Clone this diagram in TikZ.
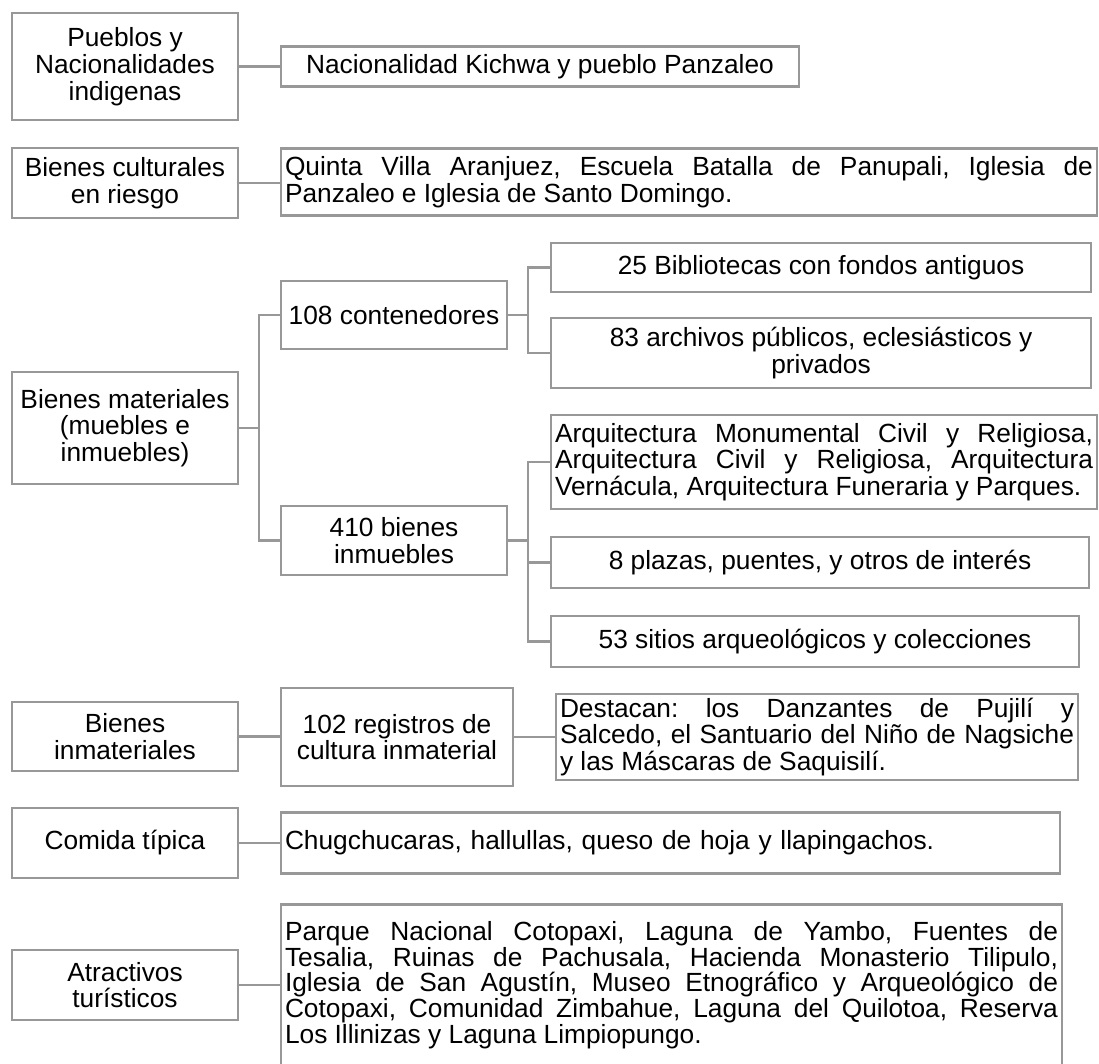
\documentclass[tikz,border=0pt]{standalone}
\usepackage{fontspec}
\setmainfont{Liberation Sans}
\frenchspacing
\definecolor{gris}{RGB}{152,152,152}
\newcommand{\fuente}{\fontsize{26.3}{26.8}\selectfont}
\newcommand{\just}[2]{\makebox[#1][s]{\spaceskip=.278em plus 1fil\relax #2}}

\begin{document}
\begin{tikzpicture}[x=1pt,y=-1pt,
  caja/.style={draw=gris,line width=2.8pt,inner sep=0pt,align=center,font=\fuente},
  texto/.style={caja,align=left,inner xsep=4pt},
  enlace/.style={draw=gris,line width=2.4pt}]
  \useasboundingbox (0,0) rectangle (1099,1063);
  \clip (0,0) rectangle (1099,1063);
  % columna izquierda
  \node[caja,minimum width=226pt,minimum height=107pt] (pueblos) at (125,66.5) {Pueblos y\\Nacionalidades\\indigenas};
  \node[caja,minimum width=226pt,minimum height=70pt] (culturales) at (125,183) {Bienes culturales\\en riesgo};
  \node[caja,minimum width=226pt,minimum height=112pt] (materiales) at (125,428) {Bienes materiales\\(muebles e\\inmuebles)};
  \node[caja,minimum width=226pt,minimum height=69pt] (inmateriales) at (125,736.5) {Bienes\\inmateriales};
  \node[caja,minimum width=226pt,minimum height=70pt] (comida) at (125,843) {Comida típica};
  \node[caja,minimum width=226pt,minimum height=70pt] (atractivos) at (125,985) {Atractivos\\turísticos};
  % segunda columna
  \node[caja,minimum width=518pt,minimum height=40pt] (kichwa) at (540,66.5) {Nacionalidad Kichwa y pueblo Panzaleo};
  \node[texto,minimum width=816pt,minimum height=67pt] (quinta) at (689,182)
    {\just{808pt}{Quinta Villa Aranjuez, Escuela Batalla de Panupali, Iglesia de}\\Panzaleo e Iglesia de Santo Domingo.};
  \node[caja,minimum width=226pt,minimum height=68pt] (contenedores) at (394,315) {108 contenedores};
  \node[caja,minimum width=226pt,minimum height=69pt] (inmuebles) at (394,540.5) {410 bienes\\inmuebles};
  \node[caja,minimum width=232pt,minimum height=98pt] (registros) at (397,737) {102 registros de\\cultura inmaterial};
  \node[texto,text width=771pt,minimum width=779pt,minimum height=61pt] (chugchucaras) at (670.5,843)
    {Chugchucaras, hallullas, queso de hoja y llapingachos.};
  \node[texto,minimum width=781pt,minimum height=161pt,font=\fontsize{26.3}{23.7}\selectfont] (parque) at (671.5,985)
    {\just{773pt}{Parque Nacional Cotopaxi, Laguna de Yambo, Fuentes de}\\
     \just{773pt}{Tesalia, Ruinas de Pachusala, Hacienda Monasterio Tilipulo,}\\
     \just{773pt}{Iglesia de San Agustín, Museo Etnográfico y Arqueológico de}\\
     \just{773pt}{Cotopaxi, Comunidad Zimbahue, Laguna del Quilotoa, Reserva}\\
     Los Illinizas y Laguna Limpiopungo.};
  % tercera columna
  \node[caja,minimum width=540pt,minimum height=49pt] (bibliotecas) at (821,267.5) {25 Bibliotecas con fondos antiguos};
  \node[caja,minimum width=540pt,minimum height=70pt] (archivos) at (821,353) {83 archivos públicos, eclesiásticos y\\privados};
  \node[texto,minimum width=546pt,minimum height=94pt] (arquitectura) at (824,462)
    {\just{538pt}{Arquitectura Monumental Civil y Religiosa,}\\
     \just{538pt}{Arquitectura Civil y Religiosa, Arquitectura}\\
     Vernácula, Arquitectura Funeraria y Parques.};
  \node[caja,minimum width=538pt,minimum height=51pt] (plazas) at (820,562.5) {8 plazas, puentes, y otros de interés};
  \node[caja,minimum width=528pt,minimum height=51pt] (sitios) at (815,641.5) {53 sitios arqueológicos y colecciones};
  \node[texto,minimum width=522pt,minimum height=86pt] (destacan) at (817,737)
    {\just{514pt}{Destacan: los Danzantes de Pujilí y}\\
     \just{514pt}{Salcedo, el Santuario del Niño de Nagsiche}\\
     y las Máscaras de Saquisilí.};
  % conexiones
  \coordinate (b1) at (259,428);
  \coordinate (b2) at (528,315);
  \coordinate (b3) at (528,540.5);
  \draw[enlace] (pueblos.east) -- (kichwa.west);
  \draw[enlace] (culturales.east) -- (culturales.east -| quinta.west);
  \draw[enlace] (materiales.east) -- (b1);
  \draw[enlace] (contenedores.west) -| (b1) |- (inmuebles.west);
  \draw[enlace] (contenedores.east) -- (b2);
  \draw[enlace] (bibliotecas.west) -| (b2) |- (archivos.west);
  \draw[enlace] (inmuebles.east) -- (b3);
  \draw[enlace] (arquitectura.west) -| (b3) |- (sitios.west);
  \draw[enlace] (b3 |- plazas.west) -- (plazas.west);
  \draw[enlace] (inmateriales.east) -- (inmateriales.east -| registros.west);
  \draw[enlace] (registros.east) -- (destacan.west);
  \draw[enlace] (comida.east) -- (comida.east -| chugchucaras.west);
  \draw[enlace] (atractivos.east) -- (parque.west);
\end{tikzpicture}
\end{document}
